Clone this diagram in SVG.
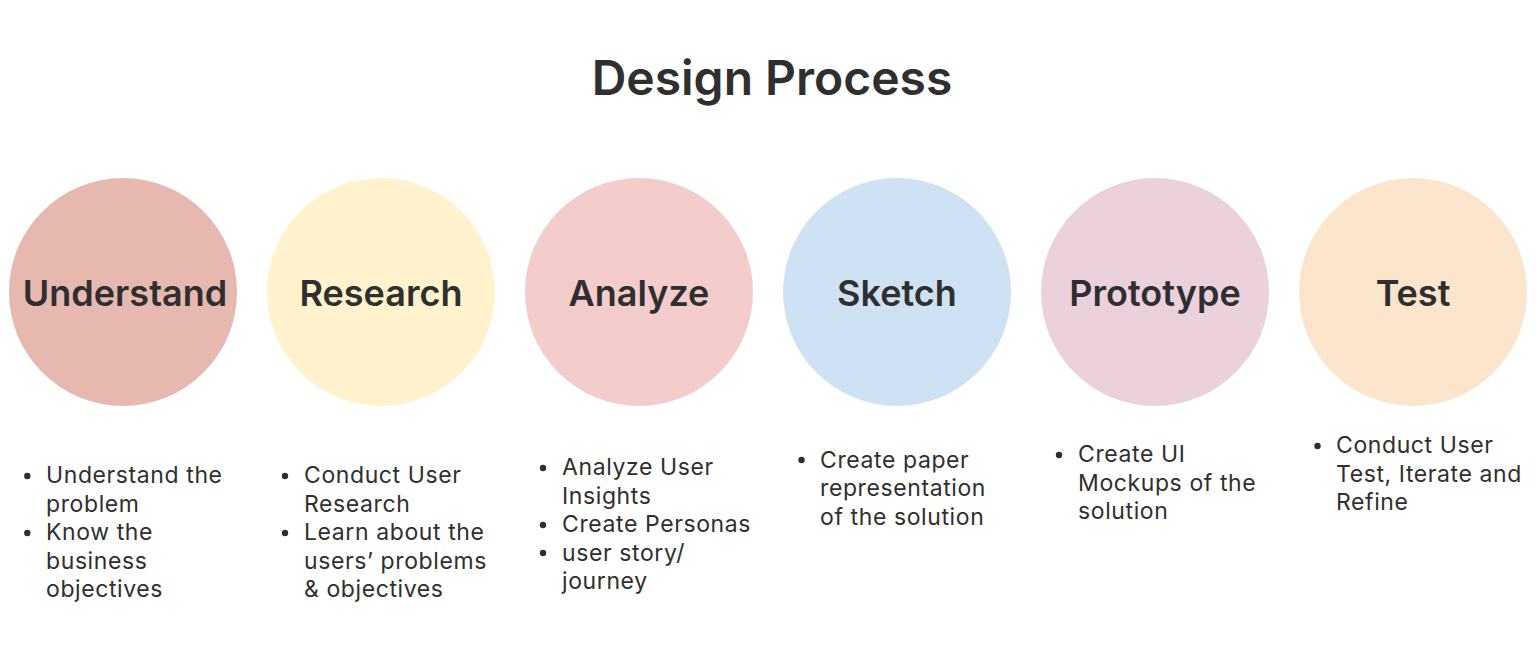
<svg xmlns="http://www.w3.org/2000/svg" width="1536" height="650" viewBox="0 0 1536 650">
<style>
.title{font-family:Inter,"Liberation Sans",sans-serif;font-size:48px;font-weight:600;fill:#2f2f2f;text-anchor:middle}
.lbl{font-family:Inter,"Liberation Sans",sans-serif;font-size:36px;font-weight:600;fill:#2f2f2f;text-anchor:middle}
.txt{font-family:Inter,"Liberation Sans",sans-serif;font-size:23px;font-weight:400;letter-spacing:0.6px;fill:#2f2f2f}
.dot{fill:#2f2f2f}
</style>
<rect width="1536" height="650" fill="#ffffff"/>
<text class="title" x="772" y="95">Design Process</text>
<g id="connectors"></g>
<g id="understand">
<circle cx="123" cy="292" r="114" fill="#E6B8AF"/>
<text class="lbl" x="125" y="306">Understand</text>
<circle class="dot" cx="27.3" cy="476" r="3.2"/>
<circle class="dot" cx="27.3" cy="533" r="3.2"/>
<text class="txt" x="46" y="483">Understand the<tspan x="46" dy="28.5">problem</tspan><tspan x="46" dy="28.5">Know the</tspan><tspan x="46" dy="28.5">business</tspan><tspan x="46" dy="28.5">objectives</tspan></text>
</g>
<g id="research">
<circle cx="381" cy="292" r="114" fill="#FFF2CC"/>
<text class="lbl" x="381" y="306">Research</text>
<circle class="dot" cx="285" cy="476" r="3.2"/>
<circle class="dot" cx="285" cy="533" r="3.2"/>
<text class="txt" x="304" y="483">Conduct User<tspan x="304" dy="28.5">Research</tspan><tspan x="304" dy="28.5">Learn about the</tspan><tspan x="304" dy="28.5">users’ problems</tspan><tspan x="304" dy="28.5">&amp; objectives</tspan></text>
</g>
<g id="analyze">
<circle cx="639" cy="292" r="114" fill="#F4CCCC"/>
<text class="lbl" x="639" y="306">Analyze</text>
<circle class="dot" cx="543" cy="468" r="3.2"/>
<circle class="dot" cx="543" cy="525" r="3.2"/>
<circle class="dot" cx="543" cy="553" r="3.2"/>
<text class="txt" x="562" y="475">Analyze User<tspan x="562" dy="28.5">Insights</tspan><tspan x="562" dy="28.5">Create Personas</tspan><tspan x="562" dy="28.5">user story/</tspan><tspan x="562" dy="28.5">journey</tspan></text>
</g>
<g id="sketch">
<circle cx="897" cy="292" r="114" fill="#CFE2F3"/>
<text class="lbl" x="897" y="306">Sketch</text>
<circle class="dot" cx="801.5" cy="460" r="3.2"/>
<text class="txt" x="820" y="467.5">Create paper<tspan x="820" dy="28.5">representation</tspan><tspan x="820" dy="28.5">of the solution</tspan></text>
</g>
<g id="prototype">
<circle cx="1155" cy="292" r="114" fill="#EAD1DC"/>
<text class="lbl" x="1155" y="306">Prototype</text>
<circle class="dot" cx="1059" cy="455" r="3.2"/>
<text class="txt" x="1078" y="462.3">Create UI<tspan x="1078" dy="28.5">Mockups of the</tspan><tspan x="1078" dy="28.5">solution</tspan></text>
</g>
<g id="test">
<circle cx="1413" cy="292" r="114" fill="#FCE5CD"/>
<text class="lbl" x="1413" y="306">Test</text>
<circle class="dot" cx="1317.5" cy="446" r="3.2"/>
<text class="txt" x="1336" y="453.3">Conduct User<tspan x="1336" dy="28.5">Test, Iterate and</tspan><tspan x="1336" dy="28.5">Refine</tspan></text>
</g>
</svg>
